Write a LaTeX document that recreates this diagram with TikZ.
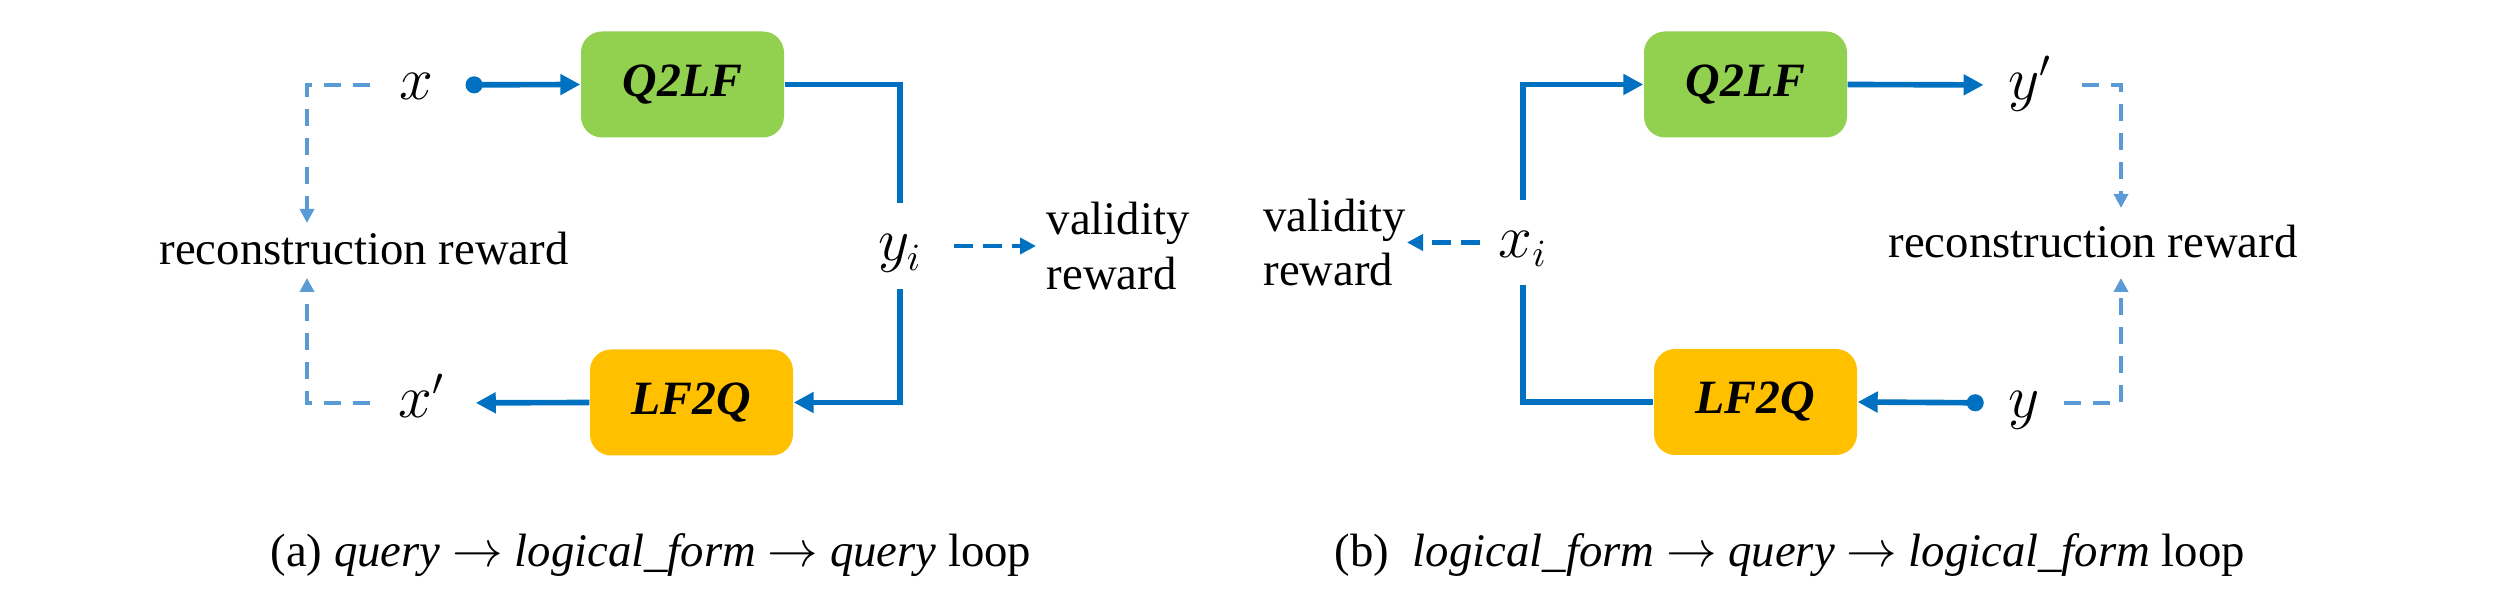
\documentclass[tikz,border=0pt]{standalone}
\usepackage{fontspec}
\setmainfont{Liberation Serif}
\usetikzlibrary{arrows.meta, positioning}
\definecolor{cblue}{HTML}{0070C0}
\definecolor{clight}{HTML}{5B9BD5}
\definecolor{cgreen}{HTML}{92D050}
\definecolor{corange}{HTML}{FFC000}
\tikzset{
  every picture/.style={font=\fontsize{13.3}{15.6}\selectfont},
  model/.style={fill=#1, rounded corners=6pt, minimum width=2.03cm, minimum height=1.06cm, inner sep=0pt, font=\fontsize{13.6}{16}\selectfont\bfseries\itshape},
  model/.default=cgreen,
  var/.style={inner sep=0pt, text height=0.35cm, text depth=0.05cm, font=\fontsize{16}{19}\selectfont},
  wire/.style={draw=cblue, line width=1.6pt},
  flow/.style={wire, -{Triangle[length=2mm, width=2mm]}},
  dotflow/.style={wire, {Circle[length=1.7mm]}-{Triangle[length=2mm, width=2mm]}},
  valid/.style={draw=cblue, line width=1.4pt, dash pattern=on 0.19cm off 0.1cm, -{Triangle[length=1.6mm, width=1.6mm]}},
  recon/.style={draw=clight, line width=1.1pt, dash pattern=on 0.17cm off 0.12cm, -{Triangle[length=1.4mm, width=1.4mm]}},
  reward/.style={inner sep=0pt, align=left},
}

\begin{document}
\begin{tikzpicture}
  \useasboundingbox (0,0) rectangle (24.96,6.10);
  % (a) query -> logical form -> query
  \node[model=cgreen] (q2lfA) at (6.825,5.255) {Q2LF};
  \node[model=corange] (lf2qA) at (6.915,2.075) {LF2Q};
  \node[var] (xA) at (4.16,5.25) {$x$};
  \node[var] (xpA) at (4.22,2.07) {$x'$};
  \node[var, minimum height=0.84cm] (yiA) at (9.0,3.64) {$y_i$};
  \node[reward, anchor=base] (recA) at (3.64,3.45) {reconstruction reward};
  \node[reward, anchor=west] (valA) at (10.46,3.64) {validity\\reward};
  \coordinate (recTopA) at (3.07,3.87);
  \coordinate (recBotA) at (3.07,3.32);
  \draw[dotflow, shorten <=0.32cm] (xA.east) -- (q2lfA.west);
  \draw[wire] (q2lfA.east) -| (yiA.north);
  \draw[flow] (yiA.south) |- (lf2qA.east);
  \draw[flow, shorten >=0.3cm] (lf2qA.west) -- (xpA.east);
  \draw[valid, shorten <=0.31cm, shorten >=0.1cm] (yiA.east) -- (valA.west);
  \draw[recon] ([xshift=-0.28cm]xA.west) -| (recTopA);
  \draw[recon] ([xshift=-0.28cm]xpA.west) -| (recBotA);
  \node[anchor=base] (capA) at (6.51,0.43) {(a) \textit{query} $\rightarrow$ \textit{logical\_form} $\rightarrow$ \textit{query} loop};
  % (b) logical form -> query -> logical form
  \node[model=cgreen] (q2lfB) at (17.455,5.255) {Q2LF};
  \node[model=corange] (lf2qB) at (17.555,2.08) {LF2Q};
  \node[var] (ypB) at (20.30,5.25) {$y'$};
  \node[var] (yB) at (20.24,2.07) {$y$};
  \node[var, minimum height=0.83cm] (xiB) at (15.23,3.675) {$x_i$};
  \node[reward, anchor=base] (recB) at (20.93,3.52) {reconstruction reward};
  \node[reward, anchor=east] (valB) at (14.07,3.675) {validity\\reward};
  \coordinate (recTopB) at (21.21,4.02);
  \coordinate (recBotB) at (21.21,3.32);
  \draw[flow] (xiB.north) |- (q2lfB.west);
  \draw[flow, shorten >=0.24cm] (q2lfB.east) -- (ypB.west);
  \draw[dotflow, shorten <=0.24cm] (yB.west) -- (lf2qB.east);
  \draw[wire] (lf2qB.west) -| (xiB.south);
  \draw[valid, shorten <=0.18cm] (xiB.west) -- (valB.east);
  \draw[recon] ([xshift=0.3cm]ypB.east) -| (recTopB);
  \draw[recon] ([xshift=0.24cm]yB.east) -| (recBotB);
  \node[anchor=base] (capB) at (17.90,0.43) {(b)\ \ \textit{logical\_form} $\rightarrow$ \textit{query} $\rightarrow$ \textit{logical\_form} loop};
\end{tikzpicture}
\end{document}
